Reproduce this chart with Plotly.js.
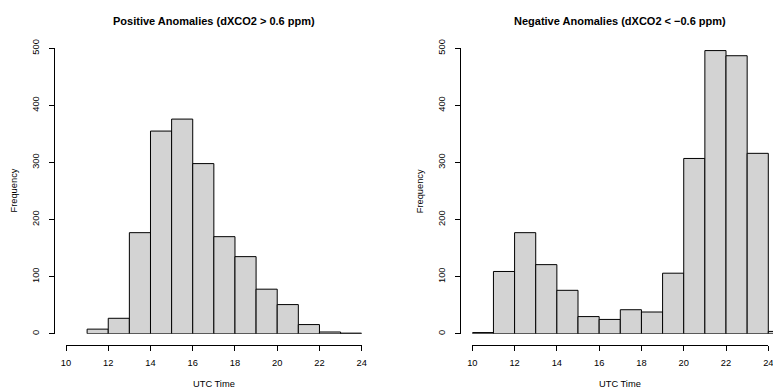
<!DOCTYPE html>
<html>
<head>
<meta charset="utf-8">
<script src="https://cdn.plot.ly/plotly-3.0.1.min.js"></script>
<style>html,body{margin:0;padding:0;background:#fff;}#chart{width:773px;height:389px;}</style>
</head>
<body>
<div id="chart"></div>
<script>
// Histogram bins (UTC hour start) and counts
const posBinStarts = [11, 12, 13, 14, 15, 16, 17, 18, 19, 20, 21, 22, 23];
const posCounts    = [8, 27, 177, 355, 376, 298, 170, 135, 78, 51, 16, 3, 1];
const negBinStarts = [10, 11, 12, 13, 14, 15, 16, 17, 18, 19, 20, 21, 22, 23, 24];
const negCounts    = [2, 109, 177, 121, 76, 30, 25, 42, 38, 106, 307, 496, 487, 316, 4];
const xTicks = [10, 12, 14, 16, 18, 20, 22, 24];
const yTicks = [0, 100, 200, 300, 400, 500];
const binWidth = 1;

const W = 773, H = 389;
const px = v => v / W;
const py = v => 1 - v / H;
const FONT = 'Liberation Sans, Arial, Helvetica, sans-serif';
const UNIT = (768.3 - 472.3) / 14; // pixels per hour on the right panel

function bars(starts, counts, xa, ya) {
  return {
    type: 'bar',
    x: starts.map(s => s + binWidth / 2),
    y: counts,
    width: binWidth,
    xaxis: xa, yaxis: ya,
    marker: {color: '#d3d3d3', line: {color: '#000', width: 1}},
    cliponaxis: false,
    hoverinfo: 'x+y',
    showlegend: false
  };
}

const xCommon = {
  range: [10, 24], anchor: 'free', position: py(345),
  showline: true, linecolor: '#000', linewidth: 1,
  ticks: 'outside', ticklen: 5, tickwidth: 1, tickcolor: '#000',
  tickvals: xTicks, ticktext: xTicks.map(String),
  tickfont: {family: FONT, size: 9.3, color: '#000'},
  ticklabelstandoff: 4, ticklabeloverflow: 'allow',
  showgrid: false, zeroline: false, fixedrange: true, automargin: false
};
const yCommon = {
  range: [0, 500], anchor: 'free', domain: [py(333.7), py(48.3)],
  showline: true, linecolor: '#000', linewidth: 1,
  ticks: 'outside', ticklen: 5, tickwidth: 1, tickcolor: '#000',
  tickvals: yTicks, ticktext: yTicks.map(String), tickangle: -90,
  tickfont: {family: FONT, size: 9.3, color: '#000'},
  ticklabelstandoff: 6, ticklabeloverflow: 'allow',
  showgrid: false, zeroline: false, fixedrange: true, automargin: false
};

const data = [
  bars(posBinStarts, posCounts, 'x', 'y'),
  bars(negBinStarts, negCounts, 'x2', 'y2'),
  // empty trace so the right panel's tick axis is drawn
  {type: 'scatter', x: [], y: [], xaxis: 'x3', yaxis: 'y2', showlegend: false, hoverinfo: 'skip'}
];

function ann(text, x, y, opts) {
  return Object.assign({
    text: text, x: px(x), y: py(y), xref: 'paper', yref: 'paper',
    showarrow: false, xanchor: 'center', yanchor: 'middle',
    font: {family: FONT, size: 9.3, color: '#000'}
  }, opts || {});
}

const layout = {
  width: W, height: H,
  margin: {l: 0, r: 0, t: 0, b: 0},
  paper_bgcolor: '#fff', plot_bgcolor: 'rgba(0,0,0,0)',
  showlegend: false,
  xaxis: Object.assign({}, xCommon, {domain: [px(66), px(361.7)]}),
  yaxis: Object.assign({}, yCommon, {position: px(53.5)}),
  // right panel: bar axis runs to the page edge (the 24-25 bin is cut there)
  xaxis2: {
    range: [10, 10 + (W - 472.3) / UNIT], domain: [px(472.3), 1],
    anchor: 'free', position: py(345), visible: false,
    showgrid: false, zeroline: false, fixedrange: true, automargin: false
  },
  yaxis2: Object.assign({}, yCommon, {position: px(460)}),
  xaxis3: Object.assign({}, xCommon, {domain: [px(472.3), px(768.3)]}),
  annotations: [
    ann('<b>Positive Anomalies (dXCO2 &gt; 0.6 ppm)</b>', 213.8, 20.7, {font: {family: FONT, size: 11, color: '#000'}}),
    ann('<b>Negative Anomalies (dXCO2 &lt; \u22120.6 ppm)</b>', 620.3, 20.7, {font: {family: FONT, size: 11, color: '#000'}}),
    ann('UTC Time', 213.8, 384),
    ann('UTC Time', 620.3, 384),
    ann('Frequency', 13.5, 191, {textangle: -90}),
    ann('Frequency', 420.3, 191, {textangle: -90})
  ]
};

Plotly.newPlot('chart', data, layout, {displayModeBar: false, staticPlot: true});
</script>
</body>
</html>
